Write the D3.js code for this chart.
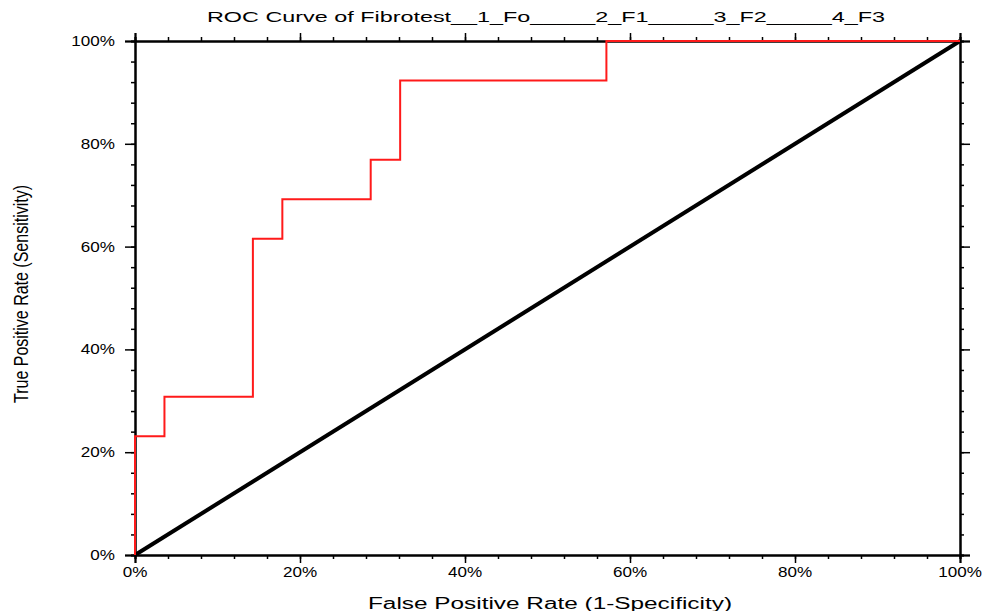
<!DOCTYPE html>
<html>
<head>
<meta charset="utf-8">
<script src="https://cdn.jsdelivr.net/npm/d3@7"></script>
<style>
    body { margin: 0; background: #fff; }
    text { font-family: "Liberation Sans", Arial, sans-serif; fill: #000; }
</style>
</head>
<body>
<svg width="990" height="611"></svg>
<script>
// ROC step points (percent)
var fpr = [0, 0, 3.57, 3.57, 14.29, 14.29, 17.86, 17.86, 28.57, 28.57, 32.14, 32.14, 57.14, 57.14, 100];
var tpr = [0, 23.08, 23.08, 30.77, 30.77, 61.54, 61.54, 69.23, 69.23, 76.92, 76.92, 92.31, 92.31, 100, 100];
var diagX = [0, 100],
    diagY = [0, 100];
var majorTicks = [0, 20, 40, 60, 80, 100];
var minorTicks = d3.range(0, 101, 4);

var svg = d3.select("svg"),
    plotLeft = 135, plotRight = 960, plotTop = 41, plotBottom = 555;

var x = d3.scaleLinear().domain([0, 100]).range([plotLeft, plotRight]),
    y = d3.scaleLinear().domain([0, 100]).range([plotBottom, plotTop]);

var fmt = function (d) { return d + "%"; };

// axes: major + minor ticks on all four sides, pointing outward
function axisPair(axisFn, scale, pos, majorLen) {
    var g = svg.append("g").attr("transform", pos);
    g.append("g").call(axisFn(scale).tickValues(minorTicks).tickSize(4).tickFormat(""));
    g.append("g").call(axisFn(scale).tickValues(majorTicks).tickSize(majorLen).tickFormat(""));
    g.selectAll("path.domain").attr("stroke-width", 2);
    g.selectAll("line").attr("stroke-width", 1.5);
    return g;
}
axisPair(d3.axisBottom, x, "translate(0," + plotBottom + ")", 8);
axisPair(d3.axisTop, x, "translate(0," + plotTop + ")", 8);
axisPair(d3.axisLeft, y, "translate(" + plotLeft + ",0)", 10);
axisPair(d3.axisRight, y, "translate(" + plotRight + ",0)", 10);

// tick labels (wide glyphs, so stretched horizontally)
svg.append("g").selectAll("text")
    .data(majorTicks)
    .enter().append("text")
    .attr("transform", function (d) { return "translate(" + x(d) + ",577) scale(1.22,1)"; })
    .attr("text-anchor", "middle")
    .style("font-size", "14px")
    .text(fmt);

svg.append("g").selectAll("text")
    .data(majorTicks)
    .enter().append("text")
    .attr("transform", function (d) { return "translate(115," + y(d) + ") scale(1.22,1)"; })
    .attr("dy", ".35em")
    .attr("text-anchor", "end")
    .style("font-size", "14px")
    .text(fmt);

// diagonal reference
var line = d3.line()
    .x(function (d) { return x(d[0]); })
    .y(function (d) { return y(d[1]); });

svg.append("path")
    .datum(d3.zip(diagX, diagY))
    .attr("fill", "none")
    .attr("stroke", "#000")
    .attr("stroke-width", 4)
    .attr("d", line);

// ROC curve
svg.append("path")
    .datum(d3.zip(fpr, tpr))
    .attr("fill", "none")
    .attr("stroke", "#ff1a1a")
    .attr("stroke-width", 2)
    .attr("d", line);

// titles
svg.append("text")
    .attr("x", 546)
    .attr("y", 22)
    .attr("text-anchor", "middle")
    .attr("textLength", 678)
    .attr("lengthAdjust", "spacingAndGlyphs")
    .style("font-size", "15px")
    .text("ROC Curve of Fibrotest__1_Fo_____2_F1_____3_F2_____4_F3");

svg.append("text")
    .attr("x", 550)
    .attr("y", 609)
    .attr("text-anchor", "middle")
    .attr("textLength", 364)
    .attr("lengthAdjust", "spacingAndGlyphs")
    .style("font-size", "16px")
    .text("False Positive Rate (1-Specificity)");

svg.append("text")
    .attr("transform", "translate(28,294) rotate(-90)")
    .attr("text-anchor", "middle")
    .attr("textLength", 218)
    .attr("lengthAdjust", "spacingAndGlyphs")
    .style("font-size", "21px")
    .text("True Positive Rate (Sensitivity)");
</script>
</body>
</html>
